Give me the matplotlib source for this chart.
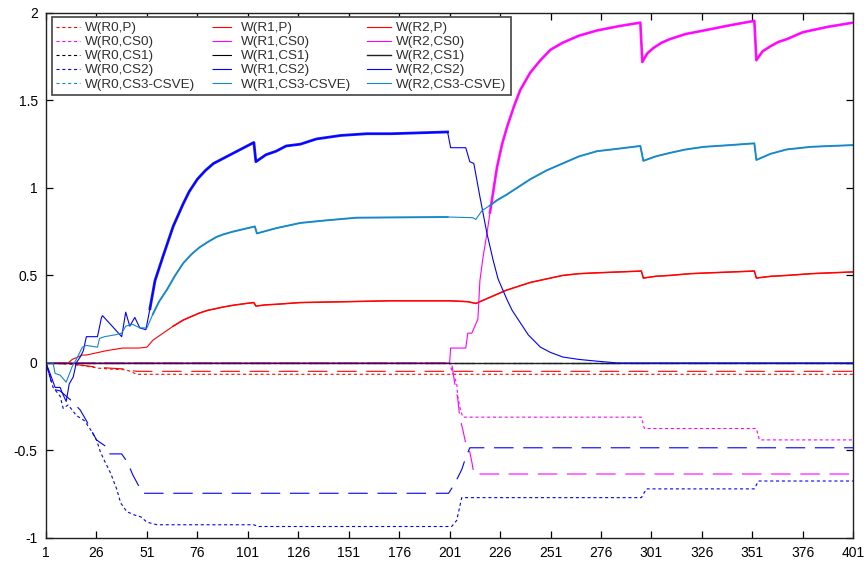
import matplotlib
matplotlib.use("Agg")
import matplotlib.pyplot as plt

plt.rcParams['font.family'] = ['Liberation Sans', 'DejaVu Sans']
plt.rcParams['lines.scale_dashes'] = False

# ---- data ----
x_ticks = [1, 26, 51, 76, 101, 126, 151, 176, 201, 226, 251, 276, 301, 326, 351, 376, 401]
y_ticks = [-1, -0.5, 0, 0.5, 1, 1.5, 2]
y_tick_labels = ['-1', '-0.5', '0', '0.5', '1', '1.5', '2']

x_zero = [1, 401]
y_zero = [0, 0]

# R0 (dotted)
x_r0_p = [1, 10, 15, 20, 27, 33, 41, 44, 46, 401]
y_r0_p = [0, -0.005, -0.01, -0.017, -0.03, -0.035, -0.04, -0.055, -0.065, -0.065]

x_r0_cs0 = [1, 201, 202.5, 204.5, 205, 206, 207.5, 296, 297.5, 353, 354.5, 401]
y_r0_cs0 = [0, 0, -0.06, -0.115, -0.19, -0.25, -0.31, -0.31, -0.375, -0.375, -0.44, -0.44]

x_r0_cs2 = [1, 3, 4.5, 8, 9.5, 12, 16, 20, 23, 26, 28, 30, 33, 36, 38, 41, 45, 48, 51, 56,
            104, 106, 202, 204.5, 207, 296, 298.5, 352, 354, 401]
y_r0_cs2 = [0, -0.08, -0.14, -0.19, -0.26, -0.24, -0.30, -0.33, -0.38, -0.44, -0.51, -0.56,
            -0.63, -0.72, -0.80, -0.85, -0.87, -0.88, -0.91, -0.925,
            -0.925, -0.935, -0.935, -0.90, -0.77, -0.77, -0.72, -0.72, -0.675, -0.675]

# R1 (dashed)
x_r1_p = [1, 10, 15, 20, 27, 33, 41, 44, 46, 401]
y_r1_p = [0, -0.005, -0.008, -0.015, -0.025, -0.03, -0.035, -0.045, -0.048, -0.048]

x_r1_cs0 = [1, 202, 203.5, 205, 206, 207.5, 209, 211, 212, 213, 401]
y_r1_cs0 = [0, 0, -0.115, -0.2, -0.31, -0.38, -0.46, -0.51, -0.565, -0.635, -0.635]

x_r1_cs2 = [1, 3, 4.5, 8, 11, 14, 18, 21, 26, 31, 32, 38.5, 41.5, 44, 47.5, 49,
            200.5, 203.5, 207, 209, 211, 401]
y_r1_cs2 = [0, -0.08, -0.15, -0.16, -0.19, -0.22, -0.27, -0.33, -0.44, -0.48, -0.52, -0.52,
            -0.57, -0.64, -0.715, -0.745, -0.745, -0.69, -0.61, -0.54, -0.485, -0.485]

# R2 (solid)
x_r2_p = [1, 12, 14, 16, 19, 21, 27, 31, 39, 47, 51, 54, 59, 64, 69, 73, 77, 81, 85, 89, 94,
          99, 104, 105, 110, 115, 127, 150, 171, 201, 210, 214, 218, 221, 225, 229, 233, 237,
          241, 245, 249, 257, 265, 274, 285, 296, 297, 303, 310, 320, 330, 352, 353, 360,
          368, 380, 390, 401]
y_r2_p = [0, 0, 0.02, 0.03, 0.045, 0.045, 0.06, 0.07, 0.085, 0.085, 0.09, 0.13, 0.17, 0.21,
          0.245, 0.265, 0.285, 0.30, 0.31, 0.32, 0.33, 0.338, 0.345, 0.325, 0.332, 0.335,
          0.345, 0.35, 0.355, 0.355, 0.35, 0.34, 0.36, 0.375, 0.395, 0.415, 0.43, 0.445,
          0.46, 0.47, 0.48, 0.50, 0.51, 0.515, 0.52, 0.525, 0.485, 0.495, 0.50, 0.51,
          0.515, 0.525, 0.485, 0.495, 0.50, 0.51, 0.515, 0.52]

x_r2_cs0 = [1, 201, 201.5, 209, 210, 212, 213.5, 215, 216, 217.5, 219.5, 221, 224.5, 227,
            229.5, 233, 236, 241, 246, 251, 257, 265, 274, 285, 295.5, 296.5, 299, 302, 306,
            310, 318, 327, 340, 352, 353, 356, 360, 364, 368, 376, 388, 401]
y_r2_cs0 = [0, 0, 0.085, 0.085, 0.17, 0.17, 0.21, 0.25, 0.47, 0.6, 0.74, 0.86, 1.12, 1.25,
            1.35, 1.47, 1.56, 1.66, 1.73, 1.79, 1.83, 1.87, 1.90, 1.925, 1.945, 1.72, 1.77,
            1.80, 1.83, 1.85, 1.88, 1.90, 1.93, 1.955, 1.73, 1.78, 1.81, 1.835, 1.85, 1.89,
            1.92, 1.945]

x_r2_cs2 = [1, 3, 5.5, 8, 9, 11, 12.5, 14.5, 16, 18, 19.5, 21, 26.5, 28.5, 29, 33, 38.5,
            40.5, 42.5, 45, 47.5, 50.5, 52.5, 55, 59, 64, 69, 72, 76, 80, 84, 89, 94, 99, 104,
            105, 110, 115, 120, 127, 135, 147, 160, 172, 200, 201.5, 209, 211, 213, 216,
            219.5, 222.5, 225, 229.5, 232, 236, 240, 246, 251, 257, 265, 274, 284, 401]
y_r2_cs2 = [0, -0.06, -0.14, -0.14, -0.17, -0.22, -0.12, -0.08, 0, 0.035, 0.07, 0.15, 0.15,
            0.26, 0.27, 0.22, 0.15, 0.29, 0.21, 0.26, 0.2, 0.19, 0.31, 0.47, 0.61, 0.78, 0.91,
            0.98, 1.05, 1.10, 1.14, 1.17, 1.2, 1.23, 1.26, 1.15, 1.19, 1.21, 1.24, 1.25,
            1.28, 1.30, 1.31, 1.31, 1.32, 1.23, 1.23, 1.15, 1.14, 0.95, 0.74, 0.59, 0.48,
            0.36, 0.30, 0.23, 0.16, 0.09, 0.06, 0.034, 0.02, 0.01, 0, 0]

x_r2_cs3 = [1, 4.5, 5.5, 8, 11, 14, 16, 19, 21, 26.5, 27.5, 30, 35, 38.5, 40.5, 44, 47.5,
            51, 54, 57, 61, 65, 69, 73, 77, 81, 85.5, 89, 93.5, 99, 104.5, 105.5, 115, 127,
            140, 155, 200, 212.5, 214, 217, 221, 224.5, 229, 233, 237, 241, 245, 249, 257,
            265, 274, 285, 295.5, 297, 303, 310, 318, 327, 340, 352, 353, 360, 368, 380, 390,
            401]
y_r2_cs3 = [0, 0, -0.06, -0.07, -0.11, -0.02, 0.02, 0.09, 0.1, 0.09, 0.14, 0.15, 0.16, 0.17,
            0.21, 0.22, 0.2, 0.2, 0.28, 0.35, 0.42, 0.50, 0.57, 0.62, 0.66, 0.69, 0.72,
            0.735, 0.75, 0.765, 0.78, 0.74, 0.77, 0.80, 0.815, 0.83, 0.834, 0.83, 0.82, 0.87,
            0.9, 0.93, 0.96, 0.99, 1.02, 1.05, 1.075, 1.10, 1.14, 1.18, 1.21, 1.225, 1.24,
            1.155, 1.18, 1.20, 1.22, 1.235, 1.245, 1.255, 1.16, 1.195, 1.22, 1.235, 1.24,
            1.245]

# ---- style ----
RED = '#ff0000'
MAG = '#ff00ff'
BLK = '#000000'
BLU = '#0000ff'
CYA = '#1487c8'
DOT = (0, (2.2, 2.0))
DASH = (0, (14, 7))

fig = plt.figure(figsize=(8.68, 5.65), dpi=100)
ax = fig.add_axes([0.053, 0.048, 0.930, 0.929])


def thick(x, y, x0, x1, color, lw):
    # the noisy saw-tooth parts of the reference look like a thicker band
    xs = [a for a in x if x0 <= a <= x1]
    ys = [b for a, b in zip(x, y) if x0 <= a <= x1]
    ax.plot(xs, ys, color=color, lw=lw, alpha=0.9, solid_joinstyle='round')


lw = 0.8
ax.plot(x_r0_p, y_r0_p, color=RED, lw=lw, linestyle=DOT, label='W(R0,P)')
ax.plot(x_r0_cs0, y_r0_cs0, color=MAG, lw=lw, linestyle=DOT, label='W(R0,CS0)')
ax.plot(x_zero, y_zero, color=BLK, lw=lw, linestyle=DOT, label='W(R0,CS1)')
ax.plot(x_r0_cs2, y_r0_cs2, color=BLU, lw=lw, linestyle=DOT, label='W(R0,CS2)')
ax.plot(x_zero, y_zero, color=CYA, lw=lw, linestyle=DOT, label='W(R0,CS3-CSVE)')

ax.plot(x_r1_p, y_r1_p, color=RED, lw=lw, linestyle=DASH, label='W(R1,P)')
ax.plot(x_r1_cs0, y_r1_cs0, color=MAG, lw=lw, linestyle=DASH, label='W(R1,CS0)')
ax.plot(x_zero, y_zero, color=BLK, lw=lw, linestyle=DASH, label='W(R1,CS1)')
ax.plot(x_r1_cs2, y_r1_cs2, color=BLU, lw=lw, linestyle=DASH, label='W(R1,CS2)')
ax.plot(x_zero, y_zero, color=CYA, lw=lw, linestyle=DASH, label='W(R1,CS3-CSVE)')

ax.plot(x_r2_p, y_r2_p, color=RED, lw=lw, label='W(R2,P)')
thick(x_r2_p, y_r2_p, 60, 401, RED, 1.1)
ax.plot(x_r2_cs0, y_r2_cs0, color=MAG, lw=lw, label='W(R2,CS0)')
thick(x_r2_cs0, y_r2_cs0, 221, 401, MAG, 1.9)
ax.plot(x_zero, y_zero, color='#222222', lw=1.0, label='W(R2,CS1)')
ax.plot(x_r2_cs2, y_r2_cs2, color=BLU, lw=lw, label='W(R2,CS2)')
thick(x_r2_cs2, y_r2_cs2, 52.5, 200, BLU, 2.0)
ax.plot(x_r2_cs3, y_r2_cs3, color=CYA, lw=lw, label='W(R2,CS3-CSVE)')
thick(x_r2_cs3, y_r2_cs3, 54, 200, CYA, 1.4)
thick(x_r2_cs3, y_r2_cs3, 221, 401, CYA, 1.4)

ax.set_xlim(1, 401)
ax.set_ylim(-1, 2)
ax.set_xticks(x_ticks)
ax.set_yticks(y_ticks)
ax.set_yticklabels(y_tick_labels)
ax.tick_params(direction='in', length=5, width=0.9, top=True, right=True,
               labelsize=10, pad=6, colors='#000000')
for s in ax.spines.values():
    s.set_linewidth(1.0)
    s.set_color('#202020')

leg = ax.legend(loc='upper left', bbox_to_anchor=(0.007, 0.992), borderaxespad=0,
                ncol=3, fontsize=9.7, handlelength=1.75, handletextpad=0.4,
                columnspacing=1.2, labelspacing=0.12, borderpad=0.35,
                fancybox=False, framealpha=1)
leg.get_frame().set_edgecolor('#505050')
leg.get_frame().set_linewidth(1.3)
for t in leg.get_texts():
    t.set_color('#303030')

fig.savefig('out.png', dpi=100)
